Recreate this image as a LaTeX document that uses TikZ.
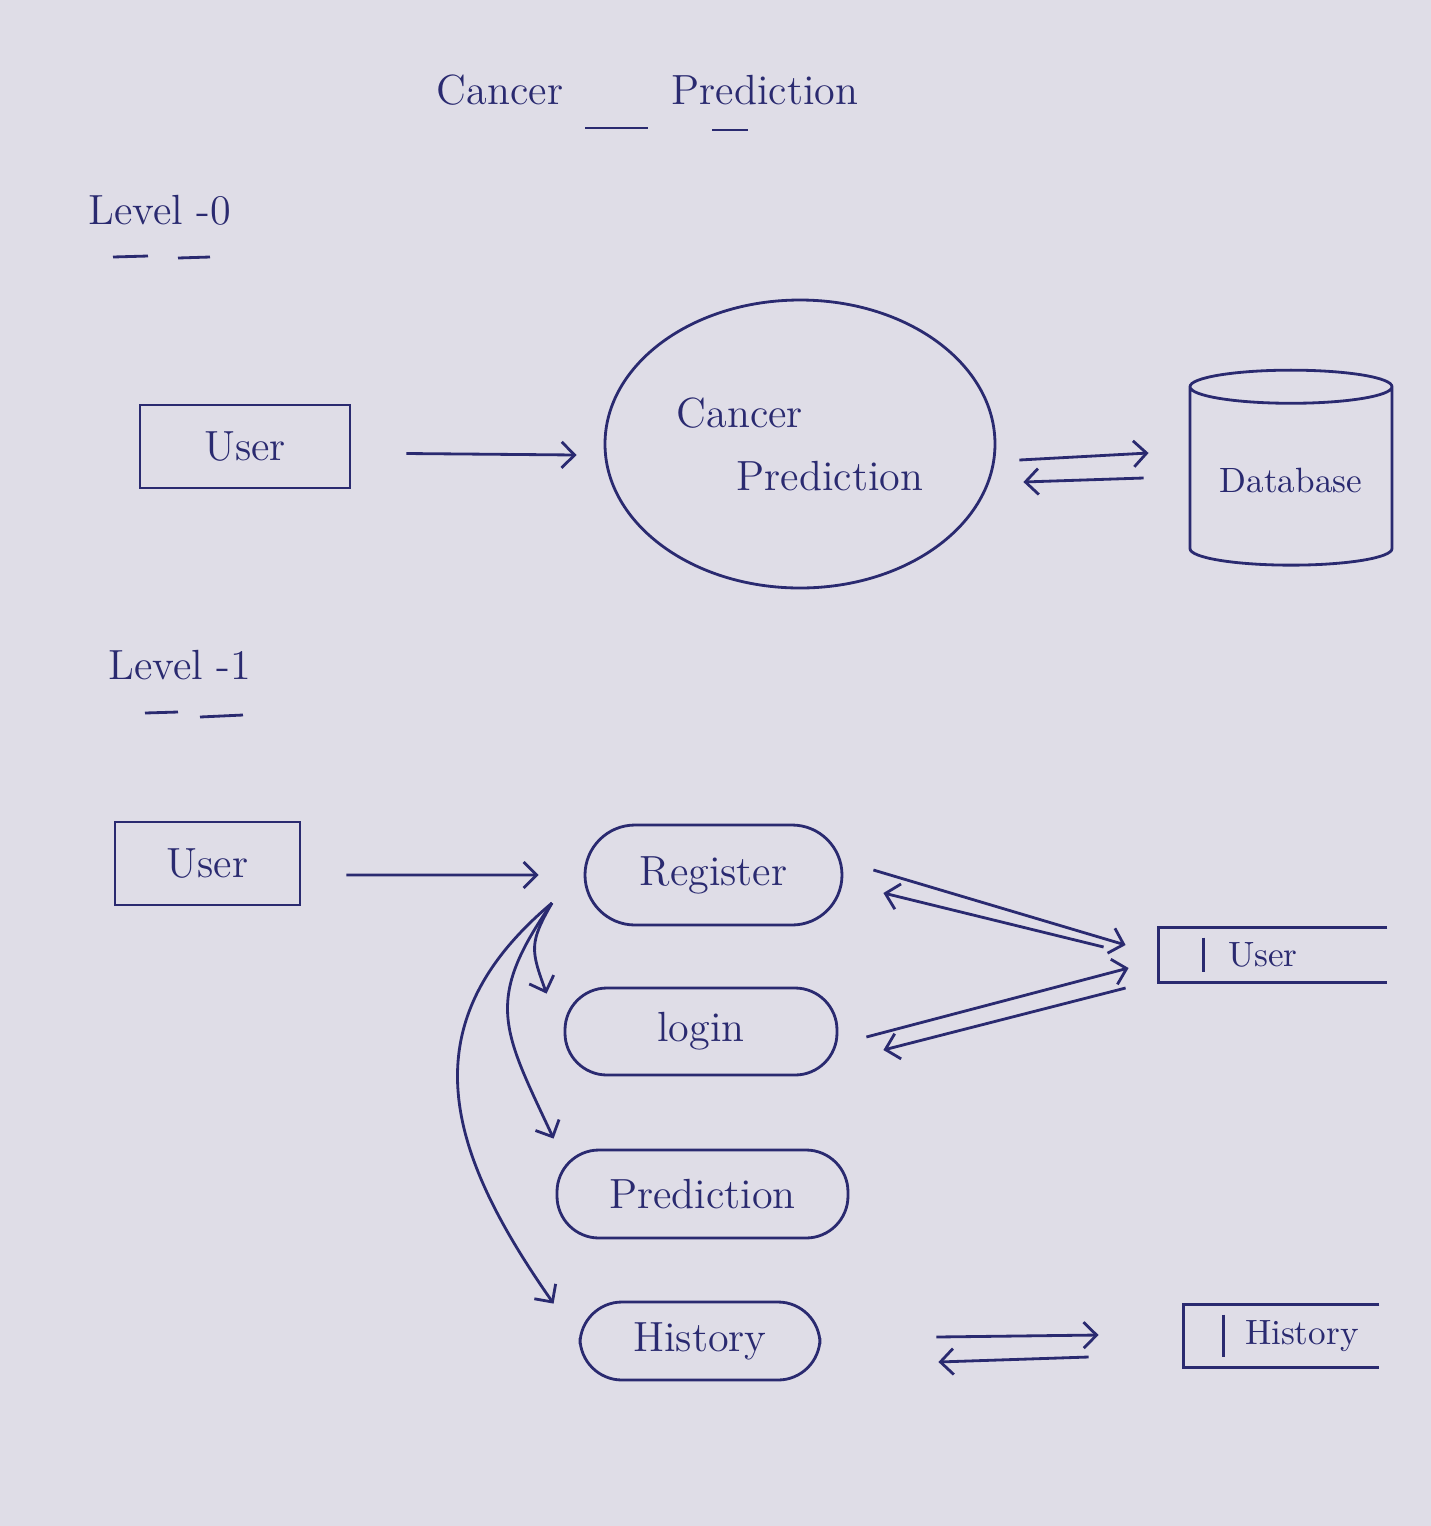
\documentclass[tikz,border=0pt]{standalone}
\usetikzlibrary{shapes.geometric, arrows.meta}
\definecolor{ink}{RGB}{42,42,112}
\definecolor{paper}{RGB}{223,221,231}
\newcommand{\sheetwidth}{14.31}
\newcommand{\sheetheight}{15.26}
\tikzset{
	entity/.style={draw, rectangle, minimum height=0.83cm},
	process/.style={draw, rectangle, rounded corners=0.42cm, minimum height=0.88cm},
	store/.style={minimum height=0.52cm, inner xsep=0pt, align=left, font=\normalsize}
}
\begin{document}
\begin{tikzpicture}[color=ink, thick, font=\large, >={Straight Barb[length=1.3mm, width=2.6mm]}]
				% Sheet of paper
				\fill[fill=paper] (0,0) rectangle (\sheetwidth,-\sheetheight);
				% Title
				\node (titlecancer) at (5.00,-0.90) {Cancer};
				\node (titleprediction) at (7.65,-0.90) {Prediction};
				\draw (5.85,-1.28) -- (6.48,-1.28);
				\draw (7.12,-1.30) -- (7.48,-1.30);
				% Level 0
				\node (level0) at (1.60,-2.10) {Level -0};
				\draw (1.13,-2.57) -- (1.48,-2.56);
				\draw (1.78,-2.58) -- (2.10,-2.57);
				\node [entity, minimum width=2.1cm] (user0) at (2.45,-4.465) {User};
				\node [draw, ellipse, minimum width=3.9cm, minimum height=2.88cm, align=left] (predict0) at (8.0,-4.44) {Cancer\\[4pt]\hspace*{0.6cm}Prediction};
				\node [draw, cylinder, shape border rotate=90, aspect=0.2, minimum width=2.02cm, minimum height=1.95cm, font=\normalsize] (database) at (12.91,-4.805) {Database};
				% Flows of level 0
				\draw [->] ([shift={(0.55,-0.07)}]user0.east) -- ([shift={(-0.27,-0.11)}]predict0.west);
				\draw [->] ([shift={(0.23,-0.16)}]predict0.east) -- ([shift={(-0.40,0.275)}]database.west);
				\draw [->] ([shift={(-0.45,0.025)}]database.west) -- ([shift={(0.27,-0.38)}]predict0.east);
				% Level 1
				\node (level1) at (1.80,-6.65) {Level -1};
				\draw (1.45,-7.13) -- (1.78,-7.12);
				\draw (2.00,-7.17) -- (2.43,-7.15);
				\node [entity, minimum width=1.85cm] (user1) at (2.075,-8.635) {User};
				\node [process, minimum width=2.57cm, minimum height=1.0cm, rounded corners=0.5cm] (register) at (7.135,-8.75) {Register};
				\node [process, minimum width=2.72cm, minimum height=0.87cm] (login) at (7.01,-10.315) {login};
				\node [process, minimum width=2.91cm] (prediction1) at (7.025,-11.94) {Prediction};
				\node [process, minimum width=2.40cm, minimum height=0.78cm] (history) at (7.00,-13.41) {History};
				% Data stores
				\node [store, text width=2.26cm] (userdb) at (12.73,-9.55) {\hspace*{0.68cm}\mbox{User}};
				\node [store, text width=1.93cm, minimum height=0.6cm] (historydb) at (12.815,-13.36) {\hspace*{0.6cm}\mbox{History}};
				\foreach \s/\d in {userdb/0.45, historydb/0.40} {
					\draw (\s.north east) -- (\s.north west) -- (\s.south west) -- (\s.south east);
					\draw ([shift={(\d,-0.1)}]\s.north west) -- ([shift={(\d,0.1)}]\s.south west);
				}
				% Flows of level 1
				\draw [->] ([shift={(0.45,-0.115)}]user1.east) -- ([shift={(-0.45,0)}]register.west);
				\coordinate (fork) at (5.52,-9.03);
				\draw [->] (fork) to [out=240, in=110, looseness=1.3] ([shift={(-0.17,-0.07)}]login.north west);
				\draw [->] (fork) to [out=235, in=115, looseness=1.3] ([shift={(-0.02,0.10)}]prediction1.north west);
				\draw [->] (fork) to [out=220, in=125, looseness=1.2] ([shift={(-0.25,-0.03)}]history.north west);
				\draw [->] ([shift={(0.30,0.05)}]register.east) -- ([shift={(-0.33,0.10)}]userdb.west);
				\draw [->] ([shift={(-0.55,0.08)}]userdb.west) -- ([shift={(0.40,-0.18)}]register.east);
				\draw [->] ([shift={(0.28,-0.055)}]login.east) -- ([shift={(-0.30,-0.13)}]userdb.west);
				\draw [->] ([shift={(-0.33,-0.33)}]userdb.west) -- ([shift={(0.45,-0.185)}]login.east);
				\draw [->] ([shift={(1.15,0.04)}]history.east) -- ([shift={(-0.85,0.01)}]historydb.west);
				\draw [->] ([shift={(-0.95,-0.21)}]historydb.west) -- ([shift={(1.17,-0.21)}]history.east);
\end{tikzpicture}
\end{document}
